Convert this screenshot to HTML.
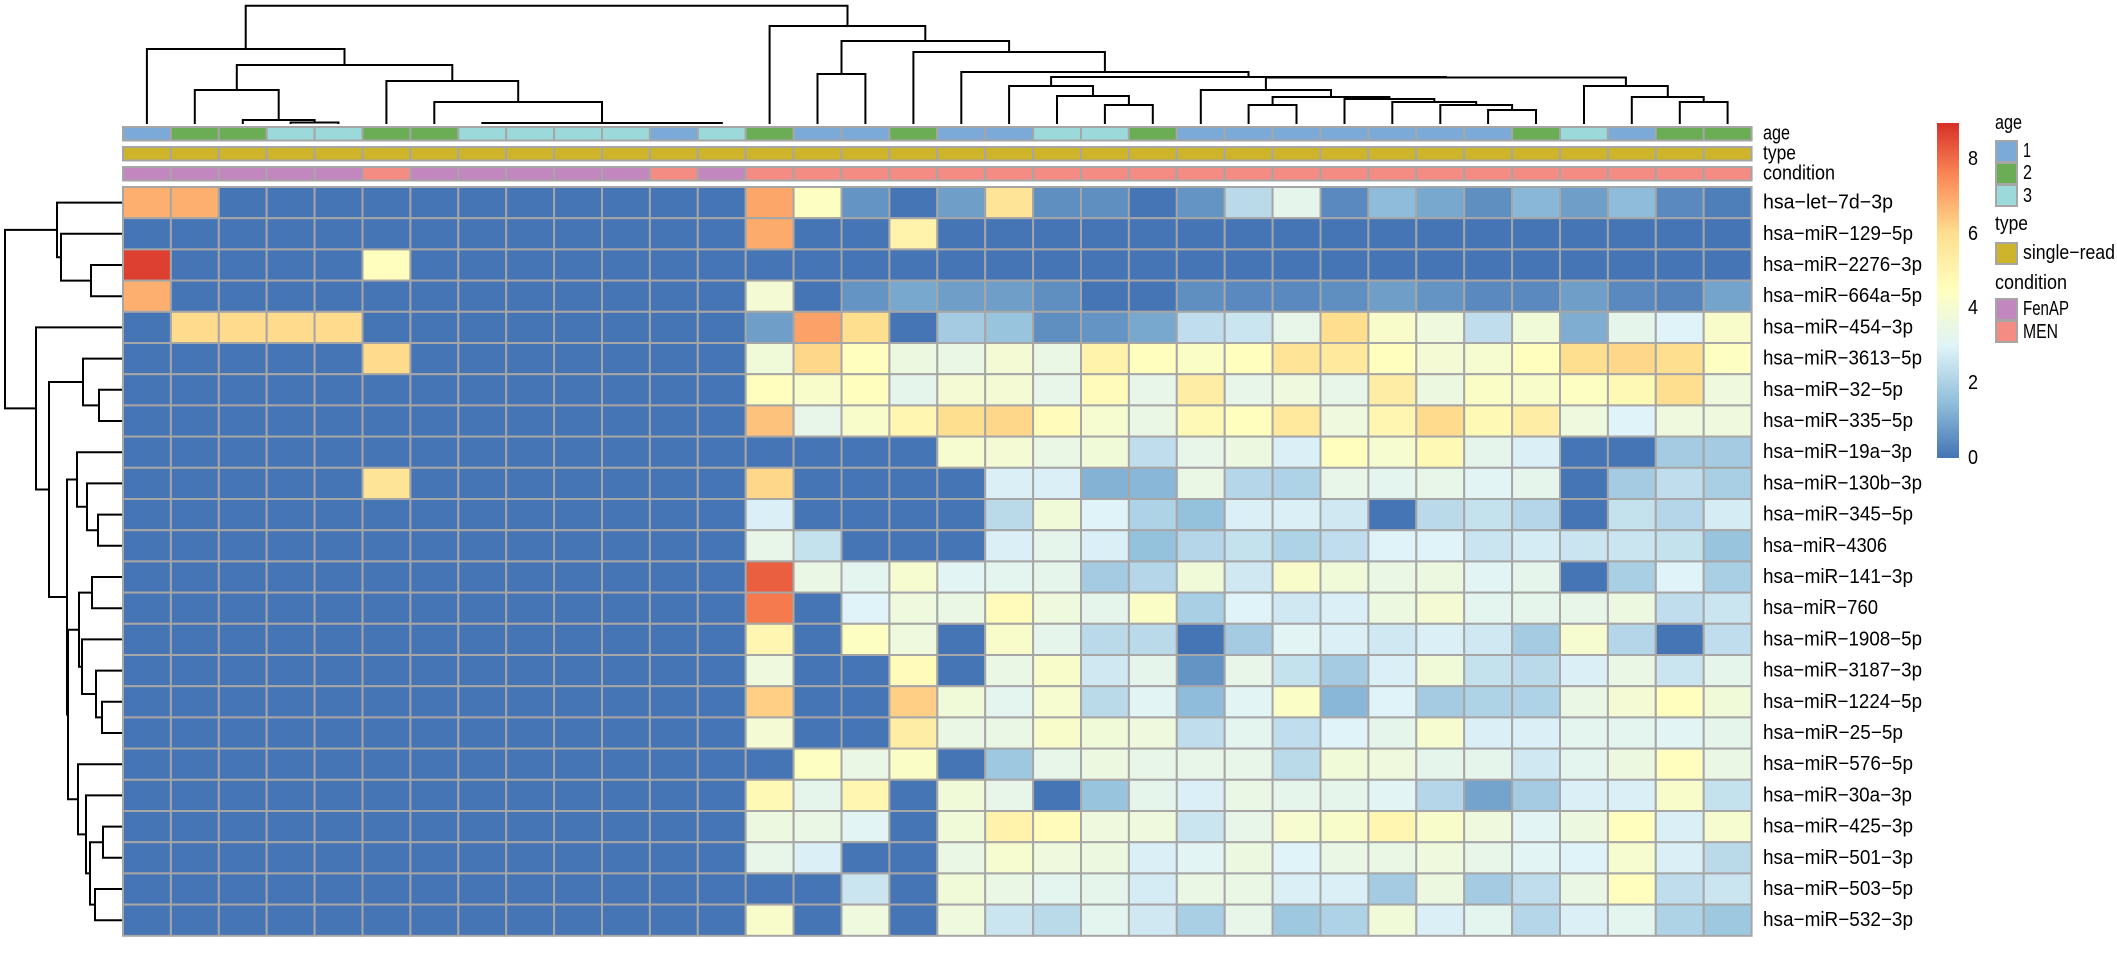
<!DOCTYPE html>
<html><head><meta charset="utf-8"><style>
html,body{margin:0;padding:0;background:#fff;}
svg{display:block;}
text{font-family:"Liberation Sans Narrow","Liberation Sans",sans-serif;font-size:20px;fill:#000;}
</style></head><body>
<svg id="s" width="2117" height="963" viewBox="0 0 2117 963" xmlns="http://www.w3.org/2000/svg">
<defs>
<linearGradient id="cb" x1="0" y1="1" x2="0" y2="0">
<stop offset="0" stop-color="#4575B4"/><stop offset="0.1667" stop-color="#91BFDB"/><stop offset="0.3333" stop-color="#E0F3F8"/><stop offset="0.5" stop-color="#FFFFBF"/><stop offset="0.6667" stop-color="#FEE090"/><stop offset="0.8333" stop-color="#FC8D59"/><stop offset="1" stop-color="#D73027"/>
</linearGradient>
</defs>
<g id="cells"></g>
<g id="dend" stroke="#000" stroke-width="2" fill="none" stroke-linecap="square"></g>
<g dominant-baseline="central">
<text x="1763" y="133.5" textLength="27" lengthAdjust="spacingAndGlyphs">age</text>
<text x="1763" y="153.5" textLength="33" lengthAdjust="spacingAndGlyphs">type</text>
<text x="1763" y="173.5" textLength="72" lengthAdjust="spacingAndGlyphs">condition</text>
<text x="1763" y="202.6" textLength="130" lengthAdjust="spacingAndGlyphs">hsa−let−7d−3p</text>
<text x="1763" y="233.8" textLength="150" lengthAdjust="spacingAndGlyphs">hsa−miR−129−5p</text>
<text x="1763" y="265.0" textLength="159" lengthAdjust="spacingAndGlyphs">hsa−miR−2276−3p</text>
<text x="1763" y="296.2" textLength="159" lengthAdjust="spacingAndGlyphs">hsa−miR−664a−5p</text>
<text x="1763" y="327.4" textLength="150" lengthAdjust="spacingAndGlyphs">hsa−miR−454−3p</text>
<text x="1763" y="358.6" textLength="159" lengthAdjust="spacingAndGlyphs">hsa−miR−3613−5p</text>
<text x="1763" y="389.8" textLength="140" lengthAdjust="spacingAndGlyphs">hsa−miR−32−5p</text>
<text x="1763" y="421.0" textLength="150" lengthAdjust="spacingAndGlyphs">hsa−miR−335−5p</text>
<text x="1763" y="452.2" textLength="149" lengthAdjust="spacingAndGlyphs">hsa−miR−19a−3p</text>
<text x="1763" y="483.4" textLength="159" lengthAdjust="spacingAndGlyphs">hsa−miR−130b−3p</text>
<text x="1763" y="514.6" textLength="150" lengthAdjust="spacingAndGlyphs">hsa−miR−345−5p</text>
<text x="1763" y="545.8" textLength="124" lengthAdjust="spacingAndGlyphs">hsa−miR−4306</text>
<text x="1763" y="577.0" textLength="150" lengthAdjust="spacingAndGlyphs">hsa−miR−141−3p</text>
<text x="1763" y="608.2" textLength="115" lengthAdjust="spacingAndGlyphs">hsa−miR−760</text>
<text x="1763" y="639.4" textLength="159" lengthAdjust="spacingAndGlyphs">hsa−miR−1908−5p</text>
<text x="1763" y="670.6" textLength="159" lengthAdjust="spacingAndGlyphs">hsa−miR−3187−3p</text>
<text x="1763" y="701.8" textLength="159" lengthAdjust="spacingAndGlyphs">hsa−miR−1224−5p</text>
<text x="1763" y="733.0" textLength="140" lengthAdjust="spacingAndGlyphs">hsa−miR−25−5p</text>
<text x="1763" y="764.2" textLength="150" lengthAdjust="spacingAndGlyphs">hsa−miR−576−5p</text>
<text x="1763" y="795.4" textLength="149" lengthAdjust="spacingAndGlyphs">hsa−miR−30a−3p</text>
<text x="1763" y="826.6" textLength="150" lengthAdjust="spacingAndGlyphs">hsa−miR−425−3p</text>
<text x="1763" y="857.8" textLength="150" lengthAdjust="spacingAndGlyphs">hsa−miR−501−3p</text>
<text x="1763" y="889.0" textLength="150" lengthAdjust="spacingAndGlyphs">hsa−miR−503−5p</text>
<text x="1763" y="920.2" textLength="150" lengthAdjust="spacingAndGlyphs">hsa−miR−532−3p</text>
<text x="1968" y="159" textLength="10" lengthAdjust="spacingAndGlyphs">8</text>
<text x="1968" y="234" textLength="10" lengthAdjust="spacingAndGlyphs">6</text>
<text x="1968" y="308" textLength="10" lengthAdjust="spacingAndGlyphs">4</text>
<text x="1968" y="383" textLength="10" lengthAdjust="spacingAndGlyphs">2</text>
<text x="1968" y="458" textLength="10" lengthAdjust="spacingAndGlyphs">0</text>
<text x="1995" y="123" textLength="27" lengthAdjust="spacingAndGlyphs">age</text>
<text x="2023" y="151" textLength="8" lengthAdjust="spacingAndGlyphs">1</text>
<text x="2023" y="173" textLength="9" lengthAdjust="spacingAndGlyphs">2</text>
<text x="2023" y="196" textLength="9" lengthAdjust="spacingAndGlyphs">3</text>
<text x="1995" y="224" textLength="33" lengthAdjust="spacingAndGlyphs">type</text>
<text x="2023" y="253" textLength="92" lengthAdjust="spacingAndGlyphs">single−read</text>
<text x="1995" y="283" textLength="72" lengthAdjust="spacingAndGlyphs">condition</text>
<text x="2023" y="309" textLength="46" lengthAdjust="spacingAndGlyphs">FenAP</text>
<text x="2023" y="332" textLength="35" lengthAdjust="spacingAndGlyphs">MEN</text>
</g>
<rect x="1937" y="123" width="22" height="335" fill="url(#cb)"/>
<g stroke="#A6A6A6" stroke-width="2">
<rect x="1996" y="141" width="21" height="21" fill="#7BAAD9"/>
<rect x="1996" y="163" width="21" height="21" fill="#6AAD55"/>
<rect x="1996" y="185" width="21" height="21" fill="#9BD9DA"/>
<rect x="1996" y="243" width="21" height="21" fill="#CDB42A"/>
<rect x="1996" y="299" width="21" height="21" fill="#C387BF"/>
<rect x="1996" y="321" width="21" height="21" fill="#F48C83"/>
</g>
</svg>
<script>
(function(){
var Z=[0,0,0,0,0,0,0,0,0,0,0,0,0];
function L(over){var a=Z.slice();for(var k in over)a[k]=over[k];return a;}
var R=[
 L({0:6.2,1:6.2}).concat([6.4,4.2,0.6,0,0.8,5.0,0.5,0.5,0,0.6,2.2,3.2,0.4,1.4,1.0,0.5,1.3,0.8,1.4,0.4,0.2]),
 L({}).concat([6.3,0,0,4.7,0,0,0,0,0,0,0,0,0,0,0,0,0,0,0,0,0]),
 L({0:8.7,5:4.3}).concat([0,0,0,0,0,0,0,0,0,0,0,0,0,0,0,0,0,0,0,0,0]),
 L({0:6.2}).concat([3.8,0,0.6,1.0,0.8,0.8,0.5,0,0,0.5,0.4,0.4,0.5,0.8,0.6,0.4,0.4,0.8,0.4,0.3,0.9]),
 L({1:5.2,2:5.2,3:5.2,4:5.2}).concat([0.8,6.5,5.1,0,1.8,1.6,0.5,0.6,1.0,2.3,2.5,3.3,5.1,4.0,3.6,2.3,3.7,1.1,3.2,2.9,4.0]),
 L({5:5.2}).concat([3.7,5.3,4.3,3.5,3.4,3.8,3.4,4.7,4.3,4.1,4.3,5.0,4.9,4.3,3.8,3.9,4.3,5.1,5.3,5.1,4.2]),
 L({}).concat([4.3,4.0,4.3,3.2,3.8,3.8,3.3,4.4,3.3,4.8,3.3,3.6,3.3,4.8,3.5,4.1,4.0,4.2,4.5,5.1,3.6]),
 L({}).concat([5.8,3.3,4.0,4.6,5.1,5.3,4.4,3.9,3.4,4.5,4.3,4.9,3.6,4.6,5.2,4.5,4.8,3.6,2.9,3.6,3.6]),
 L({}).concat([0,0,0,0,3.9,3.8,3.4,3.7,2.3,3.3,3.5,2.8,4.3,3.9,4.5,3.2,2.8,0,0,1.8,1.8]),
 L({5:5.0}).concat([5.3,0,0,0,0,2.8,2.8,1.2,1.3,3.4,2.1,2.0,3.3,3.1,3.3,3.0,3.2,0,1.8,2.3,1.9]),
 L({}).concat([2.8,0,0,0,0,2.2,3.7,2.9,2.0,1.5,2.8,2.8,2.6,0,2.2,2.4,2.1,0,2.4,2.1,2.7]),
 L({}).concat([3.3,2.4,0,0,0,2.8,3.2,2.8,1.5,2.1,2.4,2.0,2.3,2.9,2.9,2.5,2.7,2.5,2.5,2.4,1.6]),
 L({}).concat([8.0,3.4,3.1,3.9,3.0,3.1,3.2,1.8,2.1,3.7,2.6,4.0,3.7,3.4,3.5,3.0,3.2,0,1.9,2.9,1.9]),
 L({}).concat([7.4,0,2.9,3.6,3.4,4.4,3.6,3.2,4.1,1.9,2.9,2.6,2.8,3.5,3.8,3.1,3.2,3.3,3.5,2.3,2.5]),
 L({}).concat([4.6,0,4.2,3.6,0,4.0,3.2,2.2,2.2,0,1.8,3.0,2.8,2.6,2.8,2.6,1.8,3.9,2.1,0,2.3]),
 L({}).concat([3.6,0,0,4.4,0,3.4,4.0,2.6,3.2,0.6,3.3,2.4,1.8,2.8,3.7,2.4,2.2,2.8,3.4,2.5,3.2]),
 L({}).concat([5.5,0,0,5.5,3.7,3.1,3.9,2.2,3.0,1.4,3.0,4.1,1.3,2.9,1.8,2.0,2.0,3.4,3.8,4.3,3.7]),
 L({}).concat([3.8,0,0,4.8,3.4,3.4,4.0,3.7,3.6,2.3,3.1,2.3,2.9,3.2,3.9,2.8,2.8,3.1,3.1,3.0,3.2]),
 L({}).concat([0,4.2,3.4,4.1,0,1.7,3.3,3.5,3.3,3.3,3.3,2.2,3.7,3.6,3.2,3.2,2.6,3.1,3.5,4.3,3.4]),
 L({}).concat([4.5,3.2,4.6,0,3.7,3.3,0,1.6,3.2,2.8,3.4,3.2,3.2,3.0,2.1,0.9,1.8,2.8,2.8,4.0,2.4]),
 L({}).concat([3.5,3.4,3.0,0,3.7,4.7,4.4,3.6,3.6,2.5,3.3,3.9,4.0,4.6,4.0,3.6,3.0,3.5,4.3,2.8,3.9]),
 L({}).concat([3.3,2.8,0,0,3.4,3.9,3.6,3.5,2.8,3.0,3.5,2.9,3.4,3.4,3.6,3.3,3.0,2.9,3.9,2.8,2.2]),
 L({}).concat([0,0,2.5,0,3.7,3.4,3.1,3.2,2.7,3.4,3.4,2.8,2.8,1.8,3.5,1.8,2.3,3.4,4.3,2.3,2.5]),
 L({}).concat([4.0,0,3.6,0,3.6,2.5,2.2,3.1,2.6,1.9,3.3,1.7,2.0,3.7,2.8,3.1,2.1,2.8,3.1,2.0,1.7])
];
var mapA=[0,3.6,4.2,4.6,5.1,5.4,5.9,6.5,7.2,7.7,8.7,9];
var mapB=[0,3.7,4.4,4.9,6.0,6.2,6.6,7.1,7.6,8.0,8.7,8.96];
function remap(v){for(var i=1;i<mapA.length;i++){if(v<=mapA[i]){var t=(v-mapA[i-1])/(mapA[i]-mapA[i-1]);return mapB[i-1]+t*(mapB[i]-mapB[i-1]);}}return 8.96;}
var pal=[[0x45,0x75,0xB4],[0x91,0xBF,0xDB],[0xE0,0xF3,0xF8],[0xFF,0xFF,0xBF],[0xFE,0xE0,0x90],[0xFC,0x8D,0x59],[0xD7,0x30,0x27]];
function col(v){var u=Math.max(0,Math.min(1,remap(v)/8.96))*6;var i=Math.min(5,Math.floor(u));var t=u-i;var a=pal[i],b=pal[i+1];
 return 'rgb('+Math.round(a[0]+t*(b[0]-a[0]))+','+Math.round(a[1]+t*(b[1]-a[1]))+','+Math.round(a[2]+t*(b[2]-a[2]))+')';}
var X0=123,CW=47.9,Y0=187,RH=31.2,h='';
var age=[1,2,2,3,3,2,2,3,3,3,3,1,3,2,1,1,2,1,1,3,3,2,1,1,1,1,1,1,1,2,3,1,2,2];
var ageC={1:'#7BAAD9',2:'#6AAD55',3:'#9BD9DA'};
var fen={0:1,1:1,2:1,3:1,4:1,6:1,7:1,8:1,9:1,10:1,12:1};
var G='stroke="#A6A6A6" stroke-width="2"';
for(var j=0;j<34;j++){
 var x=(X0+CW*j).toFixed(1);
 h+='<rect x="'+x+'" y="127" width="'+CW+'" height="13.5" fill="'+ageC[age[j]]+'" '+G+'/>';
 h+='<rect x="'+x+'" y="147" width="'+CW+'" height="13.5" fill="#CDB42A" '+G+'/>';
 h+='<rect x="'+x+'" y="167" width="'+CW+'" height="13.5" fill="'+(fen[j]?'#C387BF':'#F48C83')+'" '+G+'/>';
 for(var i=0;i<24;i++){
  h+='<rect x="'+x+'" y="'+(Y0+RH*i).toFixed(1)+'" width="'+CW+'" height="'+RH+'" fill="'+col(R[i][j])+'" '+G+'/>';
 }
}
document.getElementById('cells').innerHTML=h;
function N(hh){return {h:hh,c:Array.prototype.slice.call(arguments,1)};}
var lines=[];
function build(n,pos,base,horiz){
 if(typeof n==='number')return {p:pos(n),h:base};
 var ch=n.c.map(function(c){return build(c,pos,base,horiz);});
 var ps=ch.map(function(c){return c.p;});
 var a=Math.min.apply(null,ps),b=Math.max.apply(null,ps);
 if(horiz){lines.push([a,n.h,b,n.h]);ch.forEach(function(c){lines.push([c.p,c.h,c.p,n.h]);});}
 else{lines.push([n.h,a,n.h,b]);ch.forEach(function(c){lines.push([c.h,c.p,n.h,c.p]);});}
 return {p:(a+b)/2,h:n.h};
}
var Gn=N(123,7,8,9,10,11,12),F=N(102,6,Gn),C=N(81,5,F),E=N(122.5,3,4),D=N(120,2,E),B=N(90,1,D),A=N(65,B,C),LL=N(49,0,A);
var S=N(105,20,21),Q=N(96,19,S),Nn=N(86,18,Q);
var Zz=N(105,27,N(110,28,29)),Y=N(102,26,Zz),Xx=N(99,25,Y),W=N(97,N(105,23,24),Xx),U=N(90,22,W);
var V=N(86,30,N(97,31,N(102,32,33)));
var T=N(77.5,U,V),M=N(77,Nn,T),K=N(72,17,M),J=N(52,16,K),I=N(74,14,15),H=N(41,I,J),RR=N(26,13,H);
build(N(5.7,LL,RR),function(k){return X0+CW*(k+0.5);},123,true);
var LA=N(57,0,N(61,1,N(91,2,3)));
var LD=N(83,5,N(99,6,7));
var LF=N(77,8,N(87,9,N(98,10,11)));
var LH=N(79,N(92,12,13),N(82,14,N(96,15,N(102,16,17))));
var LI=N(78,18,N(86,19,N(90,N(103,20,21),N(95,22,23))));
var LG=N(68,LH,LI),LE=N(67,LF,LG),LC=N(49,LD,LE),LB=N(36,4,LC);
build(N(5,LA,LB),function(k){return Y0+RH*(k+0.5);},121,false);
var d='';
lines.forEach(function(l){d+='M'+l[0].toFixed(1)+' '+l[1].toFixed(1)+'L'+l[2].toFixed(1)+' '+l[3].toFixed(1);});
document.getElementById('dend').innerHTML='<path d="'+d+'"/>';
})();
</script>
</body></html>
